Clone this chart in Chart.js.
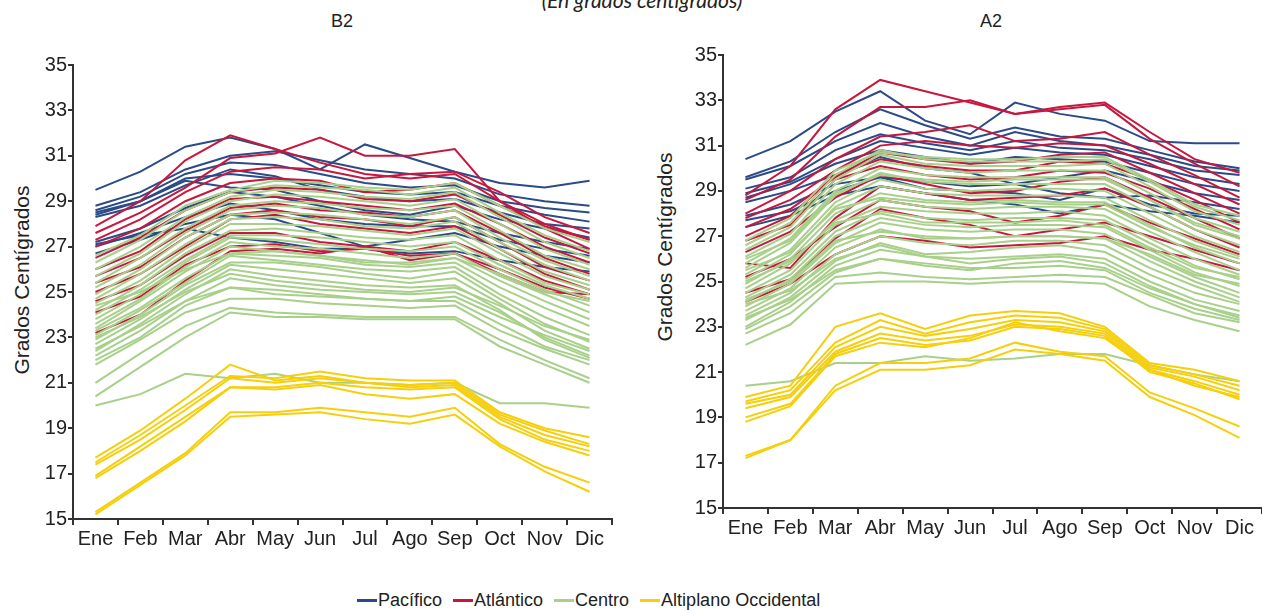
<!DOCTYPE html>
<html lang="es">
<head>
<meta charset="utf-8">
<title>Temperatura media mensual por región, escenarios B2 y A2</title>
<script src="https://cdn.jsdelivr.net/npm/chart.js@4.4.1/dist/chart.umd.min.js"></script>
<style>
    body {
        margin: 0;
        width: 1262px;
        height: 610px;
        position: relative;
        overflow: hidden;
        background: #fff;
        color: #222;
        font-family: "Liberation Sans", Arial, sans-serif;
    }
    .subtitle {
        position: absolute;
        top: -13px;
        left: 0;
        width: 1284px;
        text-align: center;
        font: italic 21px Lato, sans-serif;
    }
    .panel-title {
        position: absolute;
        top: 11px;
        font-size: 18px;
        transform: translateX(-50%);
    }
    .y-title {
        position: absolute;
        font-size: 21px;
        white-space: nowrap;
        transform: translate(-50%, -50%) rotate(-90deg);
    }
    canvas {
        position: absolute;
        top: 0;
    }
    #legend {
        position: absolute;
        top: 590px;
        left: 357px;
        display: flex;
        gap: 11px;
        font-size: 18px;
        line-height: 20px;
    }
    .item { display: flex; align-items: center; }
    .swatch { width: 20px; height: 3px; margin-right: 1px; }
</style>
</head>
<body>
<div class="subtitle">(En grados centígrados)</div>
<div class="panel-title" style="left: 342px">B2</div>
<div class="panel-title" style="left: 991px">A2</div>
<div class="y-title" style="left: 22px; top: 280px">Grados Centígrados</div>
<div class="y-title" style="left: 665px; top: 247px">Grados Centígrados</div>
<canvas id="chart-b2" width="640" height="560" style="left: 0"></canvas>
<canvas id="chart-a2" width="622" height="560" style="left: 640px"></canvas>
<div id="legend"></div>

<script>
const meses = ['Ene', 'Feb', 'Mar', 'Abr', 'May', 'Jun', 'Jul', 'Ago', 'Sep', 'Oct', 'Nov', 'Dic'];
const ticksY = [15, 17, 19, 21, 23, 25, 27, 29, 31, 33, 35];

// Escenario B2
const b2Pacifico = [
    [29.5, 30.3, 31.4, 31.8, 31.3, 30.4, 31.5, 30.9, 30.3, 29.8, 29.6, 29.9],
    [28.8, 29.4, 30.4, 31.0, 31.2, 30.8, 30.4, 30.2, 30.0, 29.3, 29.0, 28.8],
    [28.6, 29.2, 30.2, 30.7, 30.6, 30.2, 29.8, 29.6, 29.7, 29.0, 28.7, 28.5],
    [28.5, 29.0, 30.0, 30.2, 30.0, 29.7, 29.4, 29.3, 29.4, 28.8, 28.4, 28.1],
    [28.3, 28.8, 29.7, 30.4, 30.1, 29.5, 29.2, 29.0, 29.1, 28.5, 28.0, 27.8],
    [28.4, 29.0, 29.9, 29.6, 29.5, 29.0, 28.6, 28.4, 28.8, 28.2, 27.8, 27.4],
    [27.2, 27.8, 28.7, 29.4, 29.2, 28.8, 28.4, 28.2, 28.1, 27.6, 27.2, 26.9],
    [27.0, 27.6, 28.3, 28.9, 28.6, 28.2, 28.0, 27.9, 27.9, 27.3, 26.9, 26.6],
    [26.7, 27.3, 28.0, 28.4, 28.2, 27.6, 27.0, 27.3, 27.6, 27.0, 26.6, 26.3],
    [27.1, 27.5, 27.8, 27.4, 27.2, 26.9, 26.9, 26.7, 26.8, 26.4, 26.1, 25.9]
];
const b2Atlantico = [
    [27.9, 29.0, 30.8, 31.9, 31.3, 30.7, 30.2, 30.0, 30.2, 29.0, 28.0, 27.3],
    [27.6, 28.5, 29.6, 30.9, 31.1, 31.8, 31.0, 31.0, 31.3, 29.0, 27.8, 26.9],
    [27.3, 28.2, 29.4, 30.3, 30.5, 30.4, 30.0, 30.2, 30.3, 29.4, 28.3, 27.6],
    [27.0, 27.8, 29.0, 29.8, 30.0, 29.9, 29.4, 29.5, 29.8, 28.8, 27.9, 27.3],
    [26.5, 27.4, 28.6, 29.4, 29.6, 29.5, 29.1, 29.0, 29.3, 28.4, 27.4, 26.7],
    [26.0, 26.8, 28.2, 29.1, 29.2, 29.0, 28.8, 28.6, 28.9, 28.0, 27.0, 26.3],
    [25.7, 26.5, 27.7, 28.7, 28.9, 28.6, 28.5, 28.3, 28.6, 27.6, 26.5, 25.8],
    [25.4, 26.1, 27.4, 28.4, 28.6, 28.3, 28.2, 27.9, 28.3, 27.2, 26.1, 25.5],
    [25.0, 25.8, 27.0, 28.2, 28.4, 28.0, 27.8, 27.6, 27.9, 26.9, 25.8, 25.1],
    [24.6, 25.3, 26.6, 27.6, 27.6, 27.2, 27.0, 26.8, 27.2, 26.4, 25.5, 24.9],
    [24.1, 24.8, 26.2, 27.0, 27.1, 26.8, 26.9, 26.6, 26.7, 26.0, 25.2, 24.7],
    [23.2, 24.0, 25.5, 26.8, 26.9, 26.7, 27.0, 26.4, 26.7, 25.8, 25.0, 24.9]
];
const b2Centro = [
    [20.0, 20.5, 21.4, 21.2, 21.4, 21.0, 21.0, 20.9, 21.0, 20.1, 20.1, 19.9],
    [20.4, 21.7, 23.0, 24.1, 23.9, 23.9, 23.8, 23.8, 23.8, 22.6, 21.8, 21.0],
    [21.0, 22.3, 23.5, 24.3, 24.1, 24.0, 23.9, 23.9, 23.9, 22.9, 22.0, 21.2],
    [21.8, 22.9, 24.1, 24.7, 24.7, 24.5, 24.4, 24.3, 24.4, 23.3, 22.5, 21.8],
    [22.0, 23.0, 24.4, 25.2, 24.9, 24.8, 24.7, 24.6, 24.6, 23.6, 22.6, 22.0],
    [22.2, 23.3, 24.6, 25.6, 25.3, 25.1, 25.0, 24.9, 25.0, 24.1, 23.0, 22.2],
    [22.4, 23.6, 24.9, 26.0, 25.7, 25.5, 25.3, 25.2, 25.3, 24.2, 22.9, 22.1],
    [22.7, 23.8, 25.1, 26.2, 26.0, 25.8, 25.6, 25.4, 25.6, 24.5, 23.3, 22.5],
    [22.9, 24.0, 25.3, 26.3, 26.3, 26.1, 25.8, 25.6, 25.9, 24.7, 23.6, 22.8],
    [23.1, 24.2, 25.4, 26.6, 26.4, 26.2, 26.0, 25.9, 26.1, 24.9, 23.9, 23.1],
    [23.3, 24.3, 25.6, 26.7, 26.6, 26.5, 26.2, 26.1, 26.3, 25.2, 24.3, 23.5],
    [23.4, 24.6, 25.9, 27.0, 26.8, 26.6, 26.4, 26.2, 26.5, 25.5, 24.6, 23.8],
    [23.6, 24.7, 26.1, 27.2, 27.0, 26.9, 26.7, 26.5, 26.7, 25.7, 24.9, 24.1],
    [23.8, 24.9, 26.3, 27.4, 27.3, 27.1, 26.9, 26.8, 27.0, 26.0, 25.1, 24.4],
    [24.0, 25.1, 26.4, 27.5, 27.5, 27.4, 27.2, 27.0, 27.2, 26.2, 25.3, 24.7],
    [24.2, 25.3, 26.7, 27.7, 27.8, 27.6, 27.4, 27.3, 27.5, 26.4, 25.4, 24.9],
    [24.5, 25.5, 26.9, 28.0, 28.0, 27.9, 27.7, 27.5, 27.8, 26.7, 25.7, 25.1],
    [24.7, 25.8, 27.1, 28.2, 28.3, 28.2, 27.9, 27.8, 28.1, 26.9, 25.9, 25.3],
    [24.9, 26.0, 27.4, 28.4, 28.5, 28.4, 28.2, 28.0, 28.3, 27.2, 26.2, 25.5],
    [25.2, 26.2, 27.6, 28.6, 28.8, 28.7, 28.4, 28.3, 28.6, 27.4, 26.4, 25.7],
    [25.4, 26.5, 27.8, 28.8, 29.0, 28.9, 28.7, 28.6, 28.8, 27.7, 26.6, 26.0],
    [25.7, 26.7, 28.1, 29.0, 29.3, 29.2, 29.0, 28.8, 29.1, 28.0, 26.9, 26.2],
    [26.0, 27.0, 28.3, 29.2, 29.5, 29.4, 29.2, 29.1, 29.4, 28.3, 27.2, 26.5],
    [26.3, 27.3, 28.6, 29.4, 29.7, 29.6, 29.5, 29.3, 29.6, 28.5, 27.5, 26.8],
    [26.6, 27.5, 28.8, 29.5, 29.9, 29.8, 29.6, 29.5, 29.8, 28.8, 27.8, 27.2],
    [22.5, 23.5, 24.6, 25.2, 25.1, 24.9, 24.7, 24.6, 24.8, 23.9, 23.1, 22.4],
    [23.0, 23.9, 25.0, 25.8, 25.5, 25.3, 25.1, 25.0, 25.2, 24.4, 23.5, 22.9],
    [24.4, 25.0, 26.0, 26.7, 26.8, 26.6, 26.3, 26.3, 26.5, 25.8, 25.0, 24.6]
];
const b2Altiplano = [
    [17.7, 18.9, 20.3, 21.8, 21.1, 21.3, 21.0, 20.9, 21.0, 19.6, 18.9, 18.3],
    [17.5, 18.7, 20.0, 21.3, 21.2, 21.5, 21.2, 21.1, 21.1, 19.7, 19.0, 18.6],
    [17.4, 18.5, 19.8, 21.2, 21.0, 21.2, 21.0, 20.8, 20.9, 19.5, 18.7, 18.2],
    [16.9, 18.2, 19.5, 20.8, 20.8, 21.0, 20.8, 20.7, 20.8, 19.4, 18.5, 18.0],
    [16.8, 18.0, 19.3, 20.8, 20.7, 20.9, 20.5, 20.3, 20.5, 19.2, 18.4, 17.8],
    [15.3, 16.6, 17.9, 19.7, 19.7, 19.9, 19.7, 19.5, 19.9, 18.3, 17.3, 16.6],
    [15.2, 16.5, 17.8, 19.5, 19.6, 19.7, 19.4, 19.2, 19.6, 18.2, 17.1, 16.2]
];

// Escenario A2
const a2Pacifico = [
    [30.4, 31.2, 32.5, 33.4, 32.1, 31.5, 32.9, 32.4, 32.1, 31.2, 31.1, 31.1],
    [29.6, 30.3, 31.6, 32.6, 31.9, 31.3, 31.8, 31.4, 31.3, 30.8, 30.3, 30.0],
    [29.5, 30.1, 31.2, 32.0, 31.4, 31.0, 31.6, 31.2, 31.0, 30.6, 30.1, 29.9],
    [29.1, 29.6, 30.8, 31.5, 31.1, 30.8, 31.2, 30.9, 30.8, 30.4, 29.9, 29.7],
    [28.9, 29.4, 30.4, 31.2, 30.9, 30.6, 30.9, 30.7, 30.6, 30.1, 29.6, 29.3],
    [28.7, 29.3, 30.2, 30.8, 30.5, 30.2, 30.5, 30.4, 30.3, 29.8, 29.3, 29.0],
    [28.5, 29.0, 29.7, 30.5, 30.0, 29.8, 29.3, 29.6, 29.9, 29.4, 28.9, 28.6],
    [27.9, 28.4, 29.3, 29.6, 29.4, 29.2, 29.3, 28.9, 28.7, 28.8, 28.5, 28.2],
    [27.4, 27.9, 28.8, 29.2, 28.9, 28.6, 28.4, 28.0, 28.4, 28.1, 27.9, 27.6],
    [27.7, 28.1, 29.0, 29.6, 29.1, 29.0, 28.9, 28.6, 29.1, 28.4, 28.0, 27.9]
];
const a2Atlantico = [
    [28.8, 30.1, 32.6, 33.9, 33.4, 32.9, 32.4, 32.7, 32.9, 31.6, 30.4, 29.8],
    [28.6, 29.5, 31.4, 32.7, 32.7, 33.0, 32.4, 32.6, 32.8, 31.3, 30.2, 29.2],
    [28.0, 29.0, 30.4, 31.4, 31.6, 31.9, 31.2, 31.3, 31.6, 30.6, 29.7, 28.7],
    [27.8, 28.6, 29.9, 31.0, 31.2, 31.0, 30.9, 31.1, 31.0, 30.2, 29.3, 28.4],
    [27.4, 28.2, 29.6, 30.7, 30.4, 30.2, 30.3, 30.6, 30.7, 29.8, 28.9, 28.0],
    [27.0, 27.9, 29.7, 30.4, 30.1, 29.9, 29.9, 30.3, 30.2, 29.5, 28.6, 27.6],
    [26.8, 27.5, 29.5, 30.1, 29.7, 29.5, 29.6, 29.9, 29.8, 29.1, 28.2, 27.3],
    [26.3, 27.2, 28.7, 29.7, 29.3, 28.9, 29.0, 29.4, 29.6, 28.7, 27.8, 26.9],
    [25.8, 25.6, 27.8, 29.2, 28.9, 28.6, 28.7, 28.8, 29.1, 28.3, 27.3, 26.5],
    [25.2, 26.0, 27.4, 28.6, 28.3, 28.1, 27.6, 27.9, 28.4, 27.6, 26.9, 26.2],
    [24.5, 25.1, 26.9, 28.2, 27.8, 27.5, 27.0, 27.3, 27.6, 27.0, 26.4, 25.8],
    [24.1, 24.9, 26.2, 27.0, 26.8, 26.5, 26.6, 26.7, 27.0, 26.4, 26.0, 25.5]
];
const a2Centro = [
    [20.4, 20.6, 21.4, 21.4, 21.7, 21.5, 21.6, 21.8, 21.8, 21.3, 20.9, 20.6],
    [22.2, 23.1, 24.9, 25.0, 25.0, 24.9, 25.0, 25.0, 24.9, 23.9, 23.3, 22.8],
    [22.7, 23.6, 25.2, 25.4, 25.2, 25.1, 25.2, 25.3, 25.2, 24.4, 23.6, 23.2],
    [22.9, 23.9, 25.4, 26.0, 25.7, 25.5, 25.8, 25.9, 25.6, 24.7, 24.0, 23.5],
    [23.0, 24.1, 25.7, 26.4, 26.1, 26.0, 26.1, 26.2, 26.0, 25.0, 24.2, 23.7],
    [23.3, 24.3, 25.9, 26.7, 26.2, 26.3, 26.5, 26.6, 26.3, 25.3, 24.5, 24.0],
    [23.5, 24.5, 26.2, 27.0, 26.7, 26.6, 26.8, 26.8, 26.6, 25.6, 24.8, 24.1],
    [23.7, 24.7, 26.5, 27.3, 26.9, 26.9, 27.0, 27.0, 26.9, 25.9, 25.0, 24.3],
    [23.9, 24.9, 26.7, 27.6, 27.3, 27.2, 27.3, 27.3, 27.1, 26.1, 25.2, 24.5],
    [24.1, 25.1, 27.0, 27.8, 27.5, 27.4, 27.5, 27.5, 27.4, 26.4, 25.4, 24.8],
    [24.3, 25.3, 27.2, 28.1, 27.8, 27.7, 27.8, 27.8, 27.7, 26.7, 25.7, 25.1],
    [24.5, 25.5, 27.5, 28.3, 28.1, 28.0, 28.0, 28.1, 27.9, 26.9, 26.0, 25.3],
    [24.7, 25.8, 27.7, 28.6, 28.3, 28.2, 28.3, 28.3, 28.2, 27.2, 26.3, 25.5],
    [24.9, 26.0, 28.0, 28.9, 28.6, 28.5, 28.6, 28.5, 28.5, 27.5, 26.5, 25.8],
    [25.1, 26.2, 28.3, 29.2, 28.9, 28.8, 28.8, 28.8, 28.7, 27.7, 26.8, 26.1],
    [25.3, 26.4, 28.5, 29.5, 29.1, 29.0, 29.1, 29.1, 29.0, 28.0, 27.0, 26.3],
    [25.6, 26.7, 28.8, 29.8, 29.4, 29.3, 29.3, 29.3, 29.3, 28.3, 27.3, 26.6],
    [25.8, 26.9, 29.0, 30.0, 29.7, 29.6, 29.6, 29.6, 29.6, 28.6, 27.5, 26.9],
    [26.1, 27.1, 29.3, 30.3, 30.0, 29.8, 29.9, 29.9, 29.9, 28.9, 27.8, 27.2],
    [26.4, 27.4, 29.5, 30.6, 30.2, 30.1, 30.1, 30.1, 30.2, 29.2, 28.1, 27.5],
    [26.6, 27.6, 29.7, 30.8, 30.4, 30.3, 30.3, 30.3, 30.4, 29.4, 28.3, 27.7],
    [24.0, 24.6, 26.0, 26.6, 26.1, 25.8, 26.0, 26.1, 25.8, 24.8, 24.0, 23.4],
    [23.4, 24.2, 25.5, 26.0, 25.8, 25.6, 25.6, 25.7, 25.5, 24.5, 23.8, 23.3],
    [24.2, 25.0, 26.8, 27.2, 27.0, 26.9, 27.0, 27.0, 26.9, 26.2, 25.3, 24.9],
    [25.0, 25.9, 27.6, 28.0, 27.6, 27.6, 27.6, 27.7, 27.5, 26.5, 25.6, 25.2],
    [25.5, 26.3, 28.2, 28.7, 28.5, 28.4, 28.5, 28.4, 28.4, 27.4, 26.6, 26.0],
    [26.0, 26.8, 28.9, 29.7, 29.5, 29.4, 29.5, 29.5, 29.5, 28.6, 27.6, 27.0],
    [26.8, 27.8, 29.9, 30.7, 30.5, 30.4, 30.4, 30.5, 30.5, 29.5, 28.4, 27.9]
];
const a2Altiplano = [
    [19.9, 20.4, 23.0, 23.6, 22.9, 23.5, 23.7, 23.6, 23.0, 21.4, 21.1, 20.6],
    [19.7, 20.2, 22.3, 23.3, 22.7, 23.2, 23.5, 23.4, 22.9, 21.3, 20.9, 20.4],
    [19.6, 20.0, 22.1, 23.0, 22.6, 22.9, 23.3, 23.2, 22.8, 21.2, 20.8, 20.2],
    [19.4, 19.9, 21.9, 22.7, 22.4, 22.6, 23.1, 23.0, 22.7, 21.1, 20.6, 20.0],
    [19.0, 19.6, 21.8, 22.5, 22.2, 22.4, 23.0, 22.9, 22.6, 21.0, 20.5, 19.8],
    [18.8, 19.5, 21.7, 22.3, 22.1, 22.5, 23.2, 22.8, 22.5, 21.1, 20.4, 19.9],
    [17.3, 18.0, 20.4, 21.4, 21.4, 21.6, 22.3, 21.9, 21.7, 20.1, 19.4, 18.6],
    [17.2, 18.0, 20.2, 21.1, 21.1, 21.3, 22.0, 21.8, 21.5, 19.9, 19.1, 18.1]
];

// Regiones en orden de dibujo: las de abajo se pintan primero
const regiones = [
    {nombre: 'Pacífico', color: '#2b4b86', orden: 4},
    {nombre: 'Atlántico', color: '#c8173f', orden: 3},
    {nombre: 'Centro', color: '#a8d08a', orden: 2},
    {nombre: 'Altiplano Occidental', color: '#f5cf0c', orden: 1}
];

function buildDatasets(grupos) {
    const datasets = [];
    grupos.forEach((lineas, i) => {
        const region = regiones[i];
        lineas.forEach(valores => {
            datasets.push({
                label: region.nombre,
                data: valores,
                borderColor: region.color,
                order: region.orden
            });
        });
    });
    return datasets;
}

const tickFont = {family: '"Liberation Sans", Arial, sans-serif', size: 20};
const axisColor = '#333';

function drawPanel(canvasId, grupos, yWidth, padding) {
    new Chart(document.getElementById(canvasId), {
        type: 'line',
        data: {
            labels: meses,
            datasets: buildDatasets(grupos)
        },
        options: {
            responsive: false,
            animation: false,
            devicePixelRatio: 1,
            layout: {padding},
            elements: {
                point: {radius: 0},
                line: {borderWidth: 2, tension: 0, fill: false}
            },
            plugins: {
                legend: {display: false},
                tooltip: {enabled: false}
            },
            scales: {
                x: {
                    offset: true,
                    grid: {offset: true, drawOnChartArea: false, tickLength: 6, color: axisColor, lineWidth: 2},
                    border: {color: axisColor, width: 2},
                    ticks: {font: tickFont, color: '#222', padding: 2, maxRotation: 0, autoSkip: false},
                    afterFit: scale => { scale.height = 36; }
                },
                y: {
                    min: 15,
                    max: 35,
                    afterBuildTicks: scale => { scale.ticks = ticksY.map(v => ({value: v})); },
                    grid: {drawOnChartArea: false, tickLength: 5, color: axisColor, lineWidth: 2},
                    border: {color: axisColor, width: 2},
                    ticks: {font: tickFont, color: '#222', padding: 1},
                    afterFit: scale => { scale.width = yWidth; }
                }
            }
        }
    });
}

drawPanel('chart-b2', [b2Pacifico, b2Atlantico, b2Centro, b2Altiplano], 73, {top: 65, right: 28, bottom: 5, left: 0});
drawPanel('chart-a2', [a2Pacifico, a2Atlantico, a2Centro, a2Altiplano], 83, {top: 55, right: 0, bottom: 16, left: 0});

// Leyenda común a los dos paneles
const legend = document.getElementById('legend');
regiones.forEach(region => {
    const item = document.createElement('div');
    item.className = 'item';
    item.innerHTML = `<span class="swatch" style="background:${region.color}"></span>${region.nombre}`;
    legend.appendChild(item);
});
</script>
</body>
</html>
